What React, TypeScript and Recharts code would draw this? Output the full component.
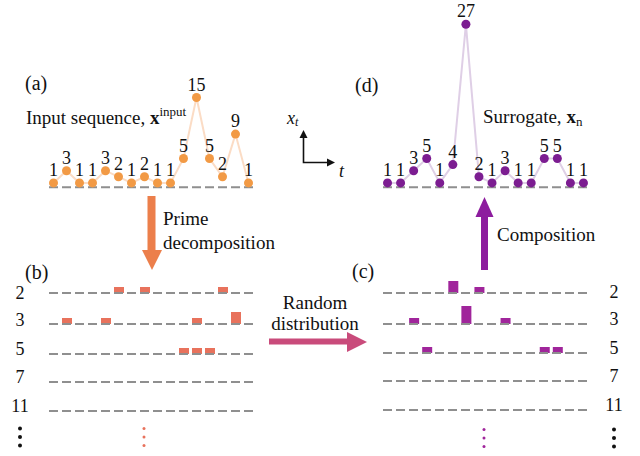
import { LineChart, Line, BarChart, Bar, XAxis, YAxis, ReferenceLine, LabelList } from 'recharts';

// time steps t = 1..16
const steps = [1, 2, 3, 4, 5, 6, 7, 8, 9, 10, 11, 12, 13, 14, 15, 16];
const inputSeq = [1, 3, 1, 1, 3, 2, 1, 2, 1, 1, 5, 15, 5, 2, 9, 1];
const surrogate = [1, 1, 3, 5, 1, 4, 27, 2, 1, 3, 1, 1, 5, 5, 1, 1];

const primes = ['2', '3', '5', '7', '11'];

// exponents of each prime in the input sequence, panel (b)
const in2 = [0, 0, 0, 0, 0, 1, 0, 1, 0, 0, 0, 0, 0, 1, 0, 0];
const in3 = [0, 1, 0, 0, 1, 0, 0, 0, 0, 0, 0, 1, 0, 0, 2, 0];
const in5 = [0, 0, 0, 0, 0, 0, 0, 0, 0, 0, 1, 1, 1, 0, 0, 0];
const in7 = [0, 0, 0, 0, 0, 0, 0, 0, 0, 0, 0, 0, 0, 0, 0, 0];
const in11 = [0, 0, 0, 0, 0, 0, 0, 0, 0, 0, 0, 0, 0, 0, 0, 0];

// exponents after random redistribution, panel (c)
const out2 = [0, 0, 0, 0, 0, 2, 0, 1, 0, 0, 0, 0, 0, 0, 0, 0];
const out3 = [0, 0, 1, 0, 0, 0, 3, 0, 0, 1, 0, 0, 0, 0, 0, 0];
const out5 = [0, 0, 0, 1, 0, 0, 0, 0, 0, 0, 0, 0, 1, 1, 0, 0];
const out7 = [0, 0, 0, 0, 0, 0, 0, 0, 0, 0, 0, 0, 0, 0, 0, 0];
const out11 = [0, 0, 0, 0, 0, 0, 0, 0, 0, 0, 0, 0, 0, 0, 0, 0];

const inputRows = [in2, in3, in5, in7, in11];
const outputRows = [out2, out3, out5, out7, out11];

const SERIF = "'Liberation Serif', 'Times New Roman', Times, 'Nimbus Roman', 'Noto Serif', 'DejaVu Serif', FreeSerif, serif";
const serif = { fontFamily: SERIF };
const DASH = '#8f8f8f';
const rowBase = [293, 324, 353.5, 381.5, 410.5];
const rowLabelY = [293, 320, 349, 377, 406];

function SeqChart({ values, left, width, dot, line }: { values: number[]; left: number; width: number; dot: string; line: string }) {
  const data = values.map((v, i) => ({ t: steps[i], v }));
  return (
    <div style={{ position: 'absolute', left, top: 0 }}>
      <LineChart width={width} height={193} data={data} margin={{ top: 6, right: 0, bottom: 4, left: 0 }}>
        <XAxis dataKey="t" type="number" domain={[0.5, 16.5]} hide />
        <YAxis domain={[0, 30]} hide />
        <ReferenceLine y={0.3} stroke={DASH} strokeWidth={2} strokeDasharray="0 2 9 2" />
        <Line
          dataKey="v"
          stroke={line}
          strokeWidth={2}
          dot={{ r: 4.5, fill: dot, stroke: 'none' }}
          isAnimationActive={false}
        >
          <LabelList dataKey="v" position="top" offset={7} fill="#111" fontSize={18} fontFamily={SERIF} style={serif} />
        </Line>
      </LineChart>
    </div>
  );
}

function RowChart({ values, left, width, top, color }: { values: number[]; left: number; width: number; top: number; color: string }) {
  const data = values.map((e, i) => ({ t: steps[i], e }));
  return (
    <div style={{ position: 'absolute', left, top: top - 21 }}>
      <BarChart width={width} height={24} data={data} margin={{ top: 0, right: 0, bottom: 3, left: 0 }} barCategoryGap={0}>
        <XAxis dataKey="t" hide />
        <YAxis domain={[0, 3.5]} hide />
        <ReferenceLine y={0} stroke={DASH} strokeWidth={2} strokeDasharray="0 2 9 2" />
        <Bar dataKey="e" fill={color} barSize={10} isAnimationActive={false} />
      </BarChart>
    </div>
  );
}

function VDots({ x, y, r, color }: { x: number; y: number; r: number; color: string }) {
  return (
    <g fill={color}>
      <circle cx={x} cy={y - 8.5} r={r} />
      <circle cx={x} cy={y} r={r} />
      <circle cx={x} cy={y + 8.5} r={r} />
    </g>
  );
}

export default function App() {
  return (
    <div style={{ position: 'absolute', left: 0, top: 0, width: 640, height: 456, background: '#fff', overflow: 'hidden', fontFamily: SERIF }}>
      <SeqChart values={inputSeq} left={46.5} width={208} dot="#f29a45" line="#fbdcc5" />
      <SeqChart values={surrogate} left={380.5} width={209} dot="#7c1d91" line="#dfcfe6" />
      {inputRows.map((r, i) => (
        <RowChart key={'b' + i} values={r} left={46.5} width={208} top={rowBase[i]} color="#e8725c" />
      ))}
      {outputRows.map((r, i) => (
        <RowChart key={'c' + i} values={r} left={380.5} width={209} top={rowBase[i] - 0.5} color="#a0259b" />
      ))}

      <svg width={640} height={456} style={{ position: 'absolute', left: 0, top: 0, pointerEvents: 'none' }}>
        <g fontFamily={SERIF} style={serif} fill="#111" dominantBaseline="central">
          <text x={25} y={83} fontSize={20}>(a)</text>
          <text x={26} y={117} fontSize={19}>
            Input sequence, <tspan fontWeight="bold">x</tspan>
            <tspan fontSize={13} dy={-6}>input</tspan>
          </text>
          <text x={355} y={85} fontSize={20}>(d)</text>
          <text x={483} y={116} fontSize={19}>
            Surrogate, <tspan fontWeight="bold">x</tspan>
            <tspan fontSize={13} dy={5}>n</tspan>
          </text>
          <text x={25} y={272} fontSize={20}>(b)</text>
          <text x={352} y={271} fontSize={20}>(c)</text>

          <text x={163} y={218} fontSize={19}>Prime</text>
          <text x={163} y={242} fontSize={19}>decomposition</text>
          <text x={315} y={302} fontSize={19} textAnchor="middle">Random</text>
          <text x={315} y={323} fontSize={19} textAnchor="middle">distribution</text>
          <text x={497} y={234} fontSize={19}>Composition</text>

          <text x={287} y={118} fontSize={18} fontStyle="italic">
            x<tspan fontSize={12} dy={4}>t</tspan>
          </text>
          <text x={339} y={171} fontSize={18} fontStyle="italic">t</text>

          {primes.map((p, i) => (
            <text key={'l' + p} x={20} y={rowLabelY[i]} fontSize={18} textAnchor="middle">{p}</text>
          ))}
          {primes.map((p, i) => (
            <text key={'r' + p} x={614} y={rowLabelY[i] - 1} fontSize={18} textAnchor="middle">{p}</text>
          ))}
        </g>

        {/* x_t / t axis glyph */}
        <g stroke="#111" strokeWidth={1.6} fill="none">
          <polyline points="303.5,137 303.5,162.5 328,162.5" />
        </g>
        <g fill="#111">
          <polygon points="299.5,138 307.5,138 303.5,130" />
          <polygon points="327,158.5 327,166.5 335,162.5" />
        </g>

        {/* prime decomposition arrow */}
        <g fill="#ec7f4b">
          <rect x={147.5} y={196} width={8} height={55} />
          <polygon points="142,250 162,250 152,270" />
        </g>
        {/* random distribution arrow */}
        <g fill="#c94b7b">
          <rect x={269} y={338.5} width={80} height={6} />
          <polygon points="347,332 347,352 367,342" />
        </g>
        {/* composition arrow */}
        <g fill="#8d1c9e">
          <rect x={481} y={216} width={7} height={54} />
          <polygon points="475.5,217 493.5,217 484.5,197" />
        </g>

        <VDots x={20} y={437} r={2} color="#111" />
        <VDots x={614} y={438} r={2} color="#111" />
        <VDots x={144} y={437} r={1.5} color="#e8725c" />
        <VDots x={484} y={438} r={1.5} color="#a0259b" />
      </svg>
    </div>
  );
}
